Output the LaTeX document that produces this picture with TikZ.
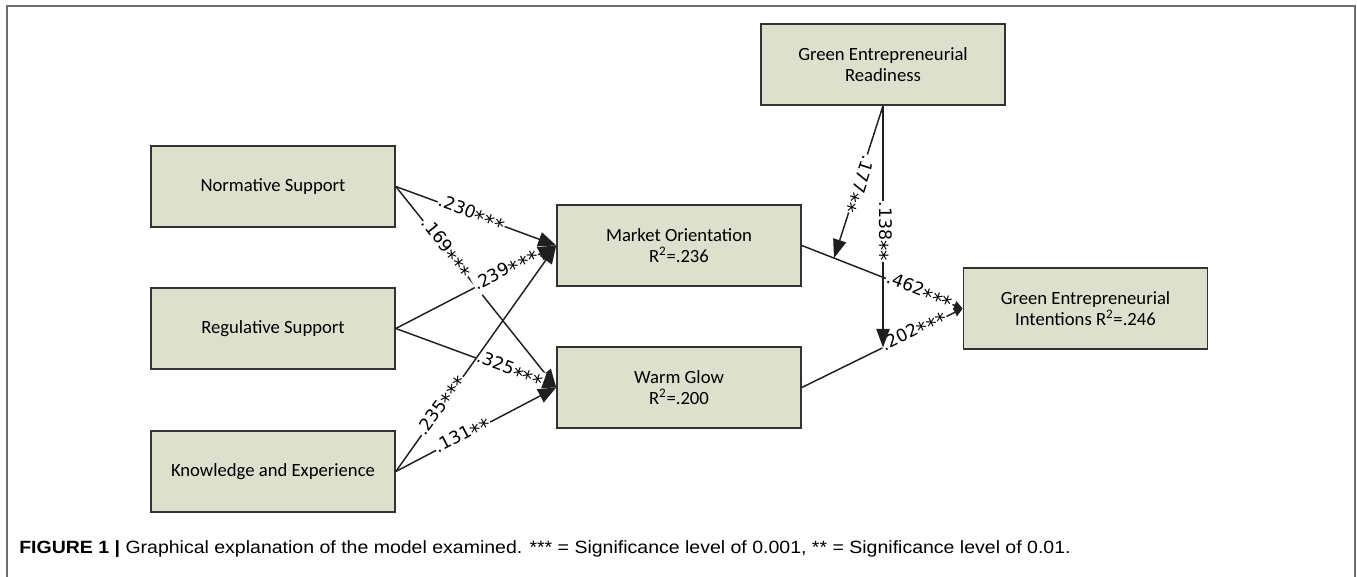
\documentclass[tikz,border=0pt]{standalone}
\usepackage{fontspec}
\setmainfont{Carlito}
\newfontfamily\lblfont{DejaVu Sans}
\newfontfamily\capfont{Liberation Sans}
\usetikzlibrary{arrows.meta,calc}
\definecolor{boxfill}{RGB}{220,224,204}
\definecolor{framegray}{RGB}{110,110,110}
\newcommand\st{\raisebox{-0.55ex}{\scalebox{1.2}{*}}}
\begin{document}
\begin{tikzpicture}[x=0.75pt,y=-0.75pt,
  box/.style={draw=black!80, line width=1.2pt, fill=boxfill, minimum width=183pt,
    minimum height=60.75pt, inner sep=0pt, align=center,
    font=\fontsize{14}{16.2}\selectfont},
  conn/.style={draw=black!88, line width=1.1pt},
  bigarr/.style={conn, -{Triangle[length=13.5pt,width=11pt]}},
  smallarr/.style={conn, -{Triangle[length=6.5pt,width=6.5pt]}},
  modarr/.style={conn, -{Triangle[length=14pt,width=10pt]}},
  lbl/.style={sloped, fill=white, inner sep=0.5pt,
    font=\lblfont\fontsize{13}{14}\selectfont},
  vlbl/.style={lbl, allow upside down}]
\useasboundingbox (0,0) rectangle (1357,577);
\draw[framegray, line width=1.5pt] (7,577) -- (7,6) -- (1355,6) -- (1355,577);

\node[box] (NS) at (273,186.5) {Normative Support};
\node[box] (RS) at (273,328.5) {Regulative Support};
\node[box] (KE) at (273,471.5) {Knowledge and Experience};
\node[box] (MO) at (679,245.5) {Market Orientation\\R\textsuperscript{2}=.236};
\node[box] (WG) at (679,387.5) {Warm Glow\\R\textsuperscript{2}=.200};
\node[box] (GER) at (883,64.5) {Green Entrepreneurial\\Readiness};
\node[box] (GEI) at (1085.5,308.5) {Green Entrepreneurial\\Intentions R\textsuperscript{2}=.246};

\coordinate (m1) at ($(MO.east)!0.2!(GEI.west)$);
\coordinate (m2) at ($(WG.east)!0.5062!(GEI.west)$);

\draw[bigarr] (NS.east) -- (MO.west) node[lbl,pos=0.47]{.230\st\st\st};
\draw[bigarr] (NS.east) -- (WG.west) node[lbl,pos=0.31]{.169\st\st\st};
\draw[bigarr] (RS.east) -- (MO.west) node[lbl,pos=0.69]{.239\st\st\st};
\draw[bigarr] (RS.east) -- (WG.west) node[lbl,pos=0.71]{.325\st\st\st};
\draw[bigarr] (KE.east) -- (MO.west) node[lbl,pos=0.29]{.235\st\st\st};
\draw[bigarr] (KE.east) -- (WG.west) node[lbl,pos=0.42]{.131\st\st};
\draw[smallarr] (MO.east) -- (GEI.west) node[lbl,pos=0.73]{.462\st\st\st};
\draw[smallarr] (WG.east) -- (GEI.west) node[lbl,pos=0.70]{.202\st\st\st};
\draw[modarr] (GER.south) -- (m1) node[vlbl,pos=0.51]{.177\st\st};
\draw[modarr] (GER.south) -- (GER.south |- m2) node[vlbl,pos=0.52]{.138\st\st};

\node[anchor=base west, inner sep=0pt, font=\capfont\fontsize{13.3}{15}\selectfont] (cap) at (19,553)
  {\scalebox{1.1}[1]{\textbf{FIGURE 1 |} Graphical explanation of the model examined. *** = Significance level of 0.001, ** = Significance level of 0.01.}};
\end{tikzpicture}
\end{document}
